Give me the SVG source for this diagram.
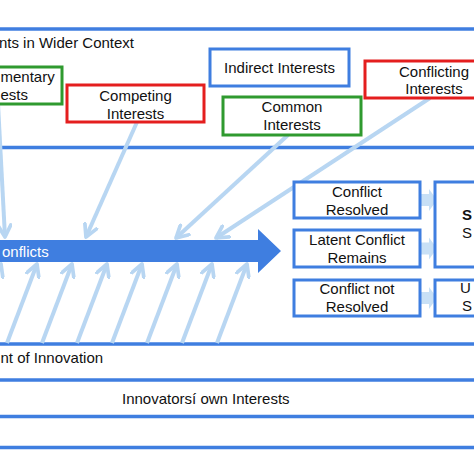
<svg xmlns="http://www.w3.org/2000/svg" width="474" height="474" viewBox="0 0 474 474">
<defs>
<style>
.frame{stroke:#3f7ee0;stroke-width:3.5;fill:none}
.box{fill:#fff;stroke-width:3}
.blue{stroke:#3f7ee0}
.red{stroke:#e41e1e}
.green{stroke:#2f9a2f}
.t{font-family:"Liberation Sans",Arial,sans-serif;font-size:15px;fill:#111}
.c{text-anchor:middle}
.e{text-anchor:end}
.la{stroke:#b8d6f2;stroke-width:4;fill:none;marker-end:url(#chev)}
.blk{fill:#c8e0f6}
</style>
<marker id="chev" viewBox="0 0 12 12" refX="10" refY="6" markerWidth="16" markerHeight="16" markerUnits="userSpaceOnUse" orient="auto">
<path d="M1.2,1.2 L10,6 L1.2,10.8" fill="none" stroke="#b8d6f2" stroke-width="2.8" stroke-linecap="round" stroke-linejoin="round"/>
</marker>
</defs>
<rect width="474" height="474" fill="#fff"/>
<g id="frames">
<line class="frame" x1="-5" y1="29" x2="480" y2="29"/>
<line class="frame" x1="-5" y1="147.5" x2="480" y2="147.5"/>
<line class="frame" x1="-5" y1="344" x2="480" y2="344"/>
<line class="frame" x1="-5" y1="380" x2="480" y2="380"/>
<line class="frame" x1="-5" y1="416.5" x2="480" y2="416.5"/>
<line class="frame" x1="-5" y1="447.5" x2="480" y2="447.5"/>
<text class="t e" x="134" y="48">nts in Wider Context</text>
<text class="t" x="0.5" y="363">nt of Innovation</text>
<text class="t" x="122" y="404">Innovatorsí own Interests</text>
</g>
<g id="conflicts-arrow">
<polygon points="-5,240 258,240 258,229 281,251 258,273 258,262 -5,262" fill="#3f7ee0"/>
<text class="t" x="2" y="257" style="fill:#fff">onflicts</text>
</g>
<g id="connectors">
<line class="la" x1="-2" y1="104" x2="5" y2="237"/>
<line class="la" x1="137" y1="122" x2="86" y2="237"/>
<line class="la" x1="288" y1="135" x2="176" y2="238"/>
<line class="la" x1="430" y1="98" x2="216" y2="238"/>
<line class="la" x1="-29" y1="343" x2="1" y2="264"/>
<line class="la" x1="7" y1="343" x2="37" y2="264"/>
<line class="la" x1="42" y1="343" x2="72" y2="264"/>
<line class="la" x1="77" y1="343" x2="107" y2="264"/>
<line class="la" x1="112" y1="343" x2="142" y2="264"/>
<line class="la" x1="147" y1="343" x2="177" y2="264"/>
<line class="la" x1="182" y1="343" x2="212" y2="264"/>
<line class="la" x1="217" y1="343" x2="247" y2="264"/>
<polygon class="blk" points="421,194 429,194 429,189 437,200 429,211 429,206 421,206"/>
<polygon class="blk" points="421,242.5 429,242.5 429,237.5 437,248.5 429,259.5 429,254.5 421,254.5"/>
<polygon class="blk" points="421,292 429,292 429,287 437,298 429,309 429,304 421,304"/>
</g>
<g id="complementary">
<rect class="box green" x="-70" y="67" width="132" height="37"/>
<text class="t" x="0.5" y="82">mentary</text>
<text class="t" x="0.5" y="100">ests</text>
</g>
<g id="competing">
<rect class="box red" x="67" y="85" width="137" height="37"/>
<text class="t c" x="135.5" y="101">Competing</text>
<text class="t c" x="135.5" y="119">Interests</text>
</g>
<g id="indirect">
<rect class="box blue" x="210" y="49" width="139" height="37"/>
<text class="t c" x="279.5" y="73">Indirect Interests</text>
</g>
<g id="common">
<rect class="box green" x="223" y="97" width="138" height="38"/>
<text class="t c" x="292" y="112">Common</text>
<text class="t c" x="292" y="130">Interests</text>
</g>
<g id="conflicting">
<rect class="box red" x="365" y="61" width="145" height="37"/>
<text class="t c" x="434" y="77">Conflicting</text>
<text class="t c" x="434" y="94">Interests</text>
</g>
<g id="resolved">
<rect class="box blue" x="294" y="182" width="126" height="36"/>
<text class="t c" x="357" y="197">Conflict</text>
<text class="t c" x="357" y="215">Resolved</text>
</g>
<g id="latent">
<rect class="box blue" x="294" y="230" width="126" height="37"/>
<text class="t c" x="357" y="245">Latent Conflict</text>
<text class="t c" x="357" y="263">Remains</text>
</g>
<g id="not-resolved">
<rect class="box blue" x="294" y="280" width="126" height="36"/>
<text class="t c" x="357" y="294">Conflict not</text>
<text class="t c" x="357" y="312">Resolved</text>
</g>
<g id="success">
<rect class="box blue" x="435" y="182" width="70" height="85"/>
<text class="t" x="462" y="220" style="font-weight:bold">S</text>
<text class="t" x="462" y="238">S</text>
</g>
<g id="unsuccess">
<rect class="box blue" x="435" y="280" width="70" height="36"/>
<text class="t" x="460" y="293">U</text>
<text class="t" x="462" y="311">S</text>
</g>
</svg>
